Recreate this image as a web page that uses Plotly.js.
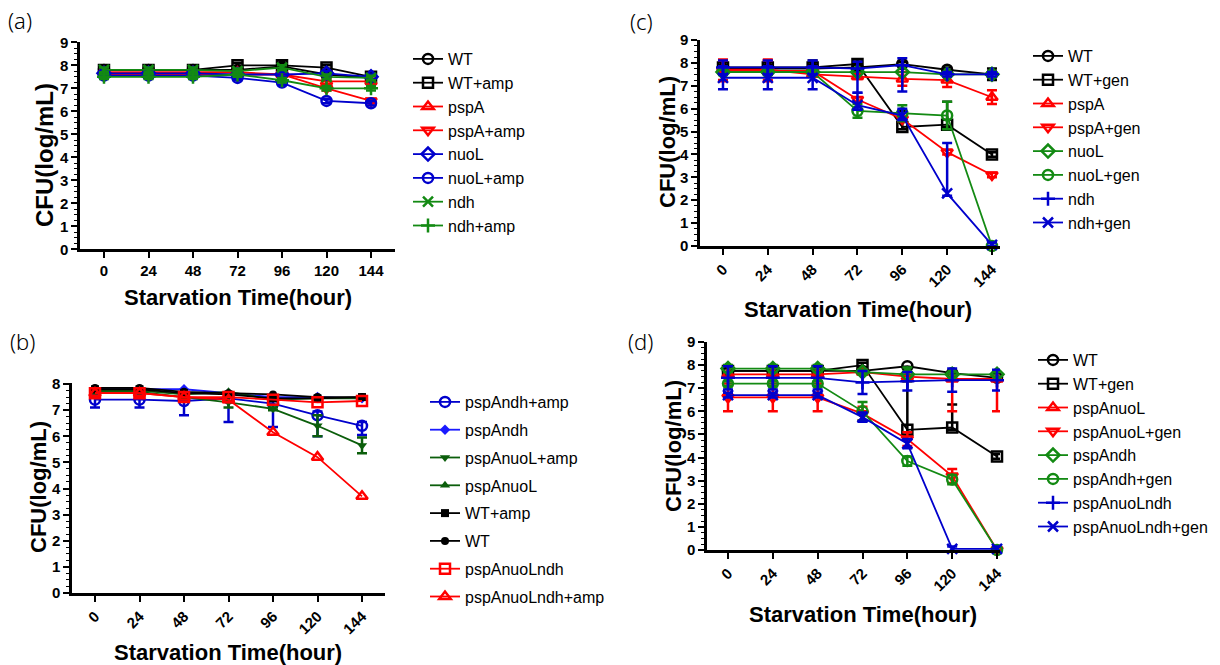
<!DOCTYPE html>
<html>
<head>
<meta charset="utf-8">
<script src="https://cdn.plot.ly/plotly-3.0.1.min.js"></script>
<style>html,body{margin:0;padding:0;background:#fff;}#chart{width:1220px;height:665px;}</style>
</head>
<body>
<div id="chart"></div>
<script>
// ---------- data ----------
const hours = [0, 24, 48, 72, 96, 120, 144];
const hourLabels = ['0', '24', '48', '72', '96', '120', '144'];
const yTicks = [0, 1, 2, 3, 4, 5, 6, 7, 8, 9];
const yTickLabels = ['0', '1', '2', '3', '4', '5', '6', '7', '8', '9'];

// panel (a)
const a_WT      = [7.8, 7.8, 7.8, 7.8, 7.95, 7.6, 7.45];
const a_WTamp   = [7.8, 7.8, 7.8, 8.0, 8.0, 7.9, 7.5];
const a_pspA    = [7.7, 7.7, 7.7, 7.7, 7.6, 7.3, 7.3];
const a_pspAamp = [7.6, 7.6, 7.6, 7.6, 7.6, 7.0, 6.45];
const a_nuoL    = [7.65, 7.65, 7.65, 7.6, 7.6, 7.65, 7.5];
const a_nuoLamp = [7.55, 7.55, 7.55, 7.45, 7.25, 6.45, 6.35];
const a_ndh     = [7.8, 7.8, 7.8, 7.75, 7.9, 7.5, 7.45];
const a_ndhamp  = [7.5, 7.5, 7.5, 7.6, 7.35, 7.0, 7.0];
const a_err     = [0.1, 0.1, 0.1, 0.1, 0.1, 0.1, 0.1];

// panel (b)
const b_pspAndhAmp       = [7.4, 7.4, 7.35, 7.45, 7.25, 6.8, 6.4];
const b_pspAndhAmp_lo    = [0.3, 0.3, 0.55, 0.9, 0.9, 0.8, 0.35];
const b_pspAndhAmp_hi    = [0.1, 0.1, 0.1, 0.1, 0.1, 0.15, 0.15];
const b_pspAndh          = [7.8, 7.8, 7.8, 7.65, 7.5, 7.5, 7.45];
const b_pspAnuoLAmp      = [7.7, 7.7, 7.5, 7.3, 7.05, 6.4, 5.65];
const b_pspAnuoLAmp_err  = [0.05, 0.05, 0.05, 0.2, 0.05, 0.4, 0.3];
const b_pspAnuoL         = [7.75, 7.75, 7.6, 7.7, 7.4, 7.45, 7.45];
const b_WTamp            = [7.8, 7.8, 7.65, 7.6, 7.45, 7.45, 7.5];
const b_WT               = [7.85, 7.85, 7.7, 7.65, 7.6, 7.5, 7.5];
const b_pspAnuoLndh      = [7.65, 7.65, 7.5, 7.5, 7.4, 7.3, 7.35];
const b_pspAnuoLndhAmp   = [7.65, 7.65, 7.5, 7.4, 6.15, 5.2, 3.7];

// panel (c)
const c_WT        = [7.75, 7.75, 7.75, 7.8, 7.95, 7.7, 7.5];
const c_WT_err    = [0.1, 0.1, 0.1, 0.1, 0.1, 0.1, 0.25];
const c_WTgen     = [7.8, 7.8, 7.8, 7.95, 5.2, 5.3, 4.0];
const c_WTgen_hi  = [0.3, 0.3, 0.3, 0.2, 0.7, 1.0, 0.1];
const c_WTgen_lo  = [0.3, 0.3, 0.3, 0.2, 0.1, 0.1, 0.1];
const c_pspA      = [7.7, 7.7, 7.5, 7.4, 7.3, 7.25, 6.5];
const c_pspA_err  = [0.45, 0.45, 0.1, 0.1, 0.3, 0.3, 0.3];
const c_pspAgen   = [7.65, 7.65, 7.65, 6.4, 5.55, 4.1, 3.1];
const c_pspAgen_err = [0.45, 0.45, 0.2, 0.1, 0.1, 0.1, 0.1];
const c_nuoL      = [7.6, 7.6, 7.6, 7.6, 7.6, 7.5, 7.5];
const c_nuoLgen   = [7.6, 7.6, 7.6, 5.9, 5.8, 5.7, 0];
const c_nuoLgen_err = [0.1, 0.1, 0.1, 0.3, 0.35, 0.6, 0];
const c_ndh       = [7.8, 7.8, 7.8, 7.75, 7.9, 7.5, 7.5];
const c_ndh_hi    = [0.3, 0.3, 0.3, 0.3, 0.3, 0.1, 0.1];
const c_ndh_lo    = [0.3, 0.3, 0.3, 1.05, 1.15, 0.1, 0.1];
const c_ndhgen    = [7.35, 7.35, 7.35, 6.15, 5.7, 2.3, 0.05];
const c_ndhgen_hi = [0.5, 0.5, 0.5, 0.55, 0.3, 2.2, 0.1];
const c_ndhgen_lo = [0.5, 0.5, 0.5, 0.2, 0.2, 0.1, 0.05];

// panel (d)
const d_WT              = [7.75, 7.75, 7.75, 7.75, 7.95, 7.65, 7.45];
const d_WTgen           = [7.75, 7.75, 7.75, 8.0, 5.2, 5.3, 4.05];
const d_WTgen_hi        = [0.1, 0.1, 0.1, 0.1, 2.7, 1.0, 0.1];
const d_WTgen_lo        = [0.1, 0.1, 0.1, 0.1, 0.1, 0.1, 0.1];
const d_pspAnuoL        = [7.6, 7.6, 7.6, 7.7, 7.5, 7.4, 7.4];
const d_pspAnuoL_hi     = [0.1, 0.1, 0.1, 0.1, 0.2, 0.1, 0.1];
const d_pspAnuoL_lo     = [0.1, 0.1, 0.1, 0.1, 0.2, 1.4, 1.4];
const d_pspAnuoLgen     = [6.6, 6.6, 6.6, 5.9, 4.8, 3.2, 0];
const d_pspAnuoLgen_err = [0.6, 0.6, 0.6, 0.3, 0.3, 0.3, 0];
const d_pspAndh         = [7.85, 7.85, 7.85, 7.7, 7.6, 7.6, 7.6];
const d_pspAndh_err     = [0.15, 0.15, 0.15, 0.1, 0.3, 0.1, 0.1];
const d_pspAndhgen      = [7.2, 7.2, 7.2, 6.0, 3.85, 3.05, 0];
const d_pspAndhgen_err  = [0.1, 0.1, 0.1, 0.4, 0.2, 0.2, 0];
const d_pspAnuoLndh     = [7.45, 7.45, 7.45, 7.25, 7.3, 7.35, 7.35];
const d_pspAnuoLndh_err = [0.5, 0.5, 0.5, 0.5, 0.4, 0.5, 0.45];
const d_pspAnuoLndhgen  = [6.7, 6.7, 6.7, 5.75, 4.6, 0.05, 0.05];
const d_pspAnuoLndhgen_err = [0.1, 0.1, 0.1, 0.2, 0.2, 0.1, 0.1];

// ---------- styles ----------
const BLACK = '#000000', RED = '#ff0000', BLUE = '#0000cc', GREEN = '#138a13';
const BBLUE = '#1a1aff', DGREEN = '#0b5e0b';

function tr(ax, legend, name, y, color, symbol, opts) {
  opts = opts || {};
  const open = symbol.indexOf('open') >= 0;
  const t = {
    type: 'scatter', mode: 'lines+markers', x: hours, y: y, name: name,
    xaxis: 'x' + ax, yaxis: 'y' + ax, legend: legend,
    cliponaxis: false,
    line: {color: color, width: 1.8},
    marker: {symbol: symbol, color: color, size: opts.size || 10,
             line: {color: color, width: open ? 2.5 : 0}},
  };
  if (opts.legendgroup) t.legendgroup = opts.legendgroup;
  if (opts.err || opts.hi) {
    t.error_y = {type: 'data', symmetric: !opts.hi,
                 array: opts.hi || opts.err, arrayminus: opts.lo || opts.err,
                 color: color, thickness: 2.5, width: 5};
  }
  return t;
}

const data = [
  // (a)
  tr('', 'legend', 'WT', a_WT, BLACK, 'circle-open', {err: a_err}),
  tr('', 'legend', 'WT+amp', a_WTamp, BLACK, 'square-open', {err: a_err}),
  tr('', 'legend', 'pspA', a_pspA, RED, 'triangle-up-open', {err: a_err}),
  tr('', 'legend', 'pspA+amp', a_pspAamp, RED, 'triangle-down-open', {err: a_err}),
  tr('', 'legend', 'nuoL', a_nuoL, BLUE, 'diamond-open', {err: a_err}),
  tr('', 'legend', 'nuoL+amp', a_nuoLamp, BLUE, 'circle-open', {err: a_err}),
  tr('', 'legend', 'ndh', a_ndh, GREEN, 'x-thin-open', {err: a_err}),
  tr('', 'legend', 'ndh+amp', a_ndhamp, GREEN, 'cross-thin-open', {err: a_err}),
  // (b)
  tr('2', 'legend2', 'pspAndh+amp', b_pspAndhAmp, BLUE, 'circle-open', {hi: b_pspAndhAmp_hi, lo: b_pspAndhAmp_lo, legendgroup: 'b1'}),
  tr('2', 'legend2', 'pspAndh', b_pspAndh, BBLUE, 'diamond', {size: 8, legendgroup: 'b2'}),
  tr('2', 'legend2', 'pspAnuoL+amp', b_pspAnuoLAmp, DGREEN, 'triangle-down', {size: 9, err: b_pspAnuoLAmp_err, legendgroup: 'b3'}),
  tr('2', 'legend2', 'pspAnuoL', b_pspAnuoL, DGREEN, 'triangle-up', {size: 9, legendgroup: 'b4'}),
  tr('2', 'legend2', 'WT+amp', b_WTamp, BLACK, 'square', {size: 8, legendgroup: 'b5'}),
  tr('2', 'legend2', 'WT', b_WT, BLACK, 'circle', {size: 8, legendgroup: 'b6'}),
  tr('2', 'legend2', 'pspAnuoLndh', b_pspAnuoLndh, RED, 'square-open', {legendgroup: 'b7'}),
  tr('2', 'legend2', 'pspAnuoLndh+amp', b_pspAnuoLndhAmp, RED, 'triangle-up-open', {legendgroup: 'b8'}),
  // (c)
  tr('3', 'legend3', 'WT', c_WT, BLACK, 'circle-open', {err: c_WT_err}),
  tr('3', 'legend3', 'WT+gen', c_WTgen, BLACK, 'square-open', {hi: c_WTgen_hi, lo: c_WTgen_lo}),
  tr('3', 'legend3', 'pspA', c_pspA, RED, 'triangle-up-open', {err: c_pspA_err}),
  tr('3', 'legend3', 'pspA+gen', c_pspAgen, RED, 'triangle-down-open', {err: c_pspAgen_err}),
  tr('3', 'legend3', 'nuoL', c_nuoL, GREEN, 'diamond-open', {}),
  tr('3', 'legend3', 'nuoL+gen', c_nuoLgen, GREEN, 'circle-open', {err: c_nuoLgen_err}),
  tr('3', 'legend3', 'ndh', c_ndh, BLUE, 'cross-thin-open', {hi: c_ndh_hi, lo: c_ndh_lo}),
  tr('3', 'legend3', 'ndh+gen', c_ndhgen, BLUE, 'x-thin-open', {hi: c_ndhgen_hi, lo: c_ndhgen_lo}),
  // (d)
  tr('4', 'legend4', 'WT', d_WT, BLACK, 'circle-open', {}),
  tr('4', 'legend4', 'WT+gen', d_WTgen, BLACK, 'square-open', {hi: d_WTgen_hi, lo: d_WTgen_lo}),
  tr('4', 'legend4', 'pspAnuoL', d_pspAnuoL, RED, 'triangle-up-open', {hi: d_pspAnuoL_hi, lo: d_pspAnuoL_lo}),
  tr('4', 'legend4', 'pspAnuoL+gen', d_pspAnuoLgen, RED, 'triangle-down-open', {err: d_pspAnuoLgen_err}),
  tr('4', 'legend4', 'pspAndh', d_pspAndh, GREEN, 'diamond-open', {err: d_pspAndh_err}),
  tr('4', 'legend4', 'pspAndh+gen', d_pspAndhgen, GREEN, 'circle-open', {err: d_pspAndhgen_err}),
  tr('4', 'legend4', 'pspAnuoLndh', d_pspAnuoLndh, BLUE, 'cross-thin-open', {err: d_pspAnuoLndh_err}),
  tr('4', 'legend4', 'pspAnuoLndh+gen', d_pspAnuoLndhgen, BLUE, 'x-thin-open', {err: d_pspAnuoLndhgen_err}),
];

// ---------- layout ----------
const W = 1220, H = 665;
const px = v => v / W, py = v => 1 - v / H;
const bold = s => '<b>' + s + '</b>';

function xa(l, r, range, angle) {
  return {domain: [px(l), px(r)], range: range, tickmode: 'array', tickvals: hours,
    ticktext: hourLabels.map(bold),
    tickangle: angle, showline: true, linewidth: 2.5, linecolor: '#000', ticks: 'outside', ticklen: 6,
    tickwidth: 2, tickcolor: '#000',
    tickfont: {family: 'Liberation Sans', size: 15, color: '#000'},
    showgrid: false, zeroline: false, fixedrange: true};
}
function ya(top, bottom, range) {
  return {domain: [py(bottom), py(top)], range: range, tickmode: 'array', tickvals: yTicks,
    ticktext: yTickLabels.map(bold),
    showline: true, linewidth: 2.5, linecolor: '#000', ticks: 'outside', ticklen: 6, tickwidth: 2,
    tickcolor: '#000', tickfont: {family: 'Liberation Sans', size: 15, color: '#000'},
    showgrid: false, zeroline: false, fixedrange: true,
    minor: {dtick: 0.25, ticks: 'outside', ticklen: 3, tickwidth: 1.2, tickcolor: '#000', showgrid: false}};
}
function ann(text, x, y, size, isBold, angle) {
  return {text: isBold ? bold(text) : text, xref: 'paper', yref: 'paper', x: px(x), y: py(y),
    xanchor: 'center', yanchor: 'middle', showarrow: false, textangle: angle || 0,
    font: {family: isBold ? 'Liberation Sans' : 'Noto Sans', size: size, color: '#000',
           weight: isBold ? 'normal' : 300}};
}
function leg(x, y, gap) {
  return {x: px(x), y: py(y), xanchor: 'left', yanchor: 'top',
    font: {family: 'Liberation Sans', size: 16, color: '#000'}, bgcolor: 'rgba(0,0,0,0)',
    borderwidth: 0, itemwidth: 30, tracegroupgap: gap || 0, itemclick: false, itemdoubleclick: false};
}

const layout = {
  width: W, height: H, margin: {l: 0, r: 0, t: 0, b: 0}, paper_bgcolor: '#fff', plot_bgcolor: '#fff',
  showlegend: true,
  xaxis:  Object.assign(xa(80, 395, [-12.94, 156.94], 0), {anchor: 'y'}),
  yaxis:  Object.assign(ya(42.3, 249.3, [0, 9]), {anchor: 'x'}),
  xaxis2: Object.assign(xa(72, 385, [-12.4, 156.4], -45), {anchor: 'y2'}),
  yaxis2: Object.assign(ya(382.7, 593, [0, 8.05]), {anchor: 'x2'}),
  xaxis3: Object.assign(xa(700, 1000, [-12.31, 148.3], -45), {anchor: 'y3'}),
  yaxis3: Object.assign(ya(40, 246, [0, 9]), {anchor: 'x3'}),
  xaxis4: Object.assign(xa(707, 1000, [-11.24, 145.6], -45), {anchor: 'y4'}),
  yaxis4: Object.assign(ya(342, 550, [0, 9]), {anchor: 'x4'}),
  legend:  leg(408, 42),
  legend2: leg(425, 385, 4),
  legend3: leg(1028, 39),
  legend4: leg(1033, 343),
  annotations: [
    ann('(a)', 20, 20, 22, false), ann('(b)', 22, 341, 22, false),
    ann('(c)', 641, 21, 22, false), ann('(d)', 640, 341, 22, false),
    ann('CFU(log/mL)', 45, 155, 24, true, -90),
    ann('CFU(log/mL)', 38, 487, 22, true, -90),
    ann('CFU(log/mL)', 668, 142, 22, true, -90),
    ann('CFU(log/mL)', 673, 446, 22, true, -90),
    ann('Starvation Time(hour)', 238, 297, 22, true),
    ann('Starvation Time(hour)', 227.5, 652.5, 22, true),
    ann('Starvation Time(hour)', 857.5, 309, 22, true),
    ann('Starvation Time(hour)', 863, 614, 22, true),
  ],
};

Plotly.newPlot('chart', data, layout, {displayModeBar: false});
</script>
</body>
</html>
